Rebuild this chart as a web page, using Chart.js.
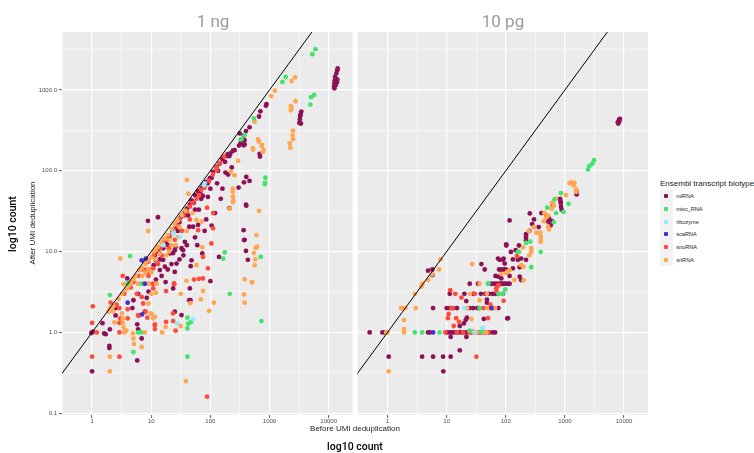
<!DOCTYPE html>
<html>
<head>
<meta charset="utf-8">
<script src="https://cdn.jsdelivr.net/npm/chart.js@4/dist/chart.umd.min.js"></script>
<style>
  body { margin: 0; width: 754px; height: 453px; background: #fff; position: relative; overflow: hidden;
         font-family: "Liberation Sans", Arial, sans-serif; }
  canvas { position: absolute; top: 0; }
  #ng1 { left: 0; }
  #pg10 { left: 355px; }
  .t { position: absolute; white-space: nowrap; line-height: 1; transform: translate(-50%, -50%); }
  .strip { font-family: Roboto, sans-serif; font-size: 17px; color: #9b9b9b; }
  .axis { font-size: 8px; color: #222; }
  .outer { font-family: Roboto, sans-serif; font-size: 10.5px; font-weight: 500; color: #000; }
  .rot { transform: translate(-50%, -50%) rotate(-90deg); }
  #legend { position: absolute; left: 660px; top: 178px; font-size: 8px; color: #222; }
  #legend .title { height: 12px; line-height: 11px; white-space: nowrap; }
  #legend .row { display: flex; align-items: center; height: 12.7px; }
  #legend .key { width: 12.7px; height: 12.7px; background: #f2f2f2; position: relative; }
  #legend .key span { position: absolute; left: 4.3px; top: 4.3px; width: 4px; height: 4px; border-radius: 1px; }
  #legend .lab { font-size: 5.6px; margin-left: 3.5px; }
</style>
</head>
<body>
<canvas id="ng1" width="355" height="432"></canvas>
<canvas id="pg10" width="300" height="432"></canvas>

<div class="t strip" style="left:213px; top:21px">1 ng</div>
<div class="t strip" style="left:503px; top:21px">10 pg</div>
<div class="t axis" style="left:355px; top:429px">Before UMI deduplication</div>
<div class="t outer" style="left:355px; top:447px">log10 count</div>
<div class="t axis rot" style="left:33px; top:223px">After UMI deduplication</div>
<div class="t outer rot" style="left:13px; top:224px">log10 count</div>
<div id="legend"><div class="title">Ensembl transcript biotype</div></div>

<script>
// axis breaks
const xTicks = [1, 10, 100, 1000, 10000];
const xTickLabels = ['1', '10', '100', '1000', '10000'];
const yTicks = [0.1, 1, 10, 100, 1000];
const yTickLabels = ['0.1', '1.0', '10.0', '100.0', '1000.0'];

const biotypes = ['miRNA', 'misc_RNA', 'ribozyme', 'scaRNA', 'snoRNA', 'snRNA'];
const biotypeColors = ['#8c1157', '#45e36d', '#8ee9fa', '#4b2fc6', '#ff4b3d', '#ffa64e'];

// y = x reference
const identityLine = [0.01, 100000];

// ---- 1 ng : [before, after] ----
const ng1_miRNA = [
  [12400,1100],[12500,1200],[12600,1300],[12800,1450],[13200,1150],[13500,1600],[14000,1750],[14200,1850],[14000,1350],[13800,1250],[12500,1050],
  [3450,540],[3350,500],[3300,470],[3250,430],[3200,390],[3400,385],
  [890,670],[870,640],[700,545],[665,470],[460,345],[400,310],[370,275],[380,212],[305,205],[335,228],
  [680,162],[690,150],[240,177],[210,152],[195,160],[325,218],[365,207],[380,240],
  [313,290],[257,180],[218,164],[191,152],[177,129],[144,123],[127,112],[111,97],[98,81],[84,73],[75,67],[71,61],[62,56],[55,50],[48,43],[45,38],[40,34],[37,31],[32,27],[30,23],[27,20],[23,17.6],[20,15],[18,12.6],[16,11],[14,9.5],[12,7.8],[11,6.8],
  [160,140],[135,100],[105,82],[90,70],[68,52],[52,40],[36,28],[26,22],[17,14],[13,10],
  [100,60],[70,45],[42,28],[28,18],[19,12],[14,8],[9,6],
  [460,75],[370,72],[405,84],[300,62],[400,38],[210,34.5],[405,37],[380,14],[400,10.2],[430,7.9],[140,8.6],[100,4.3],
  [91,47.5],[75,49],[64,33],[55,33],[51,20.3],[44,20.3],[62,21.4],[105,21],[32.5,11],[34.5,10.4],[25,10.4],[26,11.5],[37,13.2],[48,7.8],[46.5,6.6],[26.8,7.1],[25,5.6],[73,9.5],[365,18.4],[370,13.9],
  [15.9,7.9],[17,6.5],[14,5.9],[11.5,9],[21,9.5],[23.5,9.6],
  [30,8],[35,9],[40,12],[55,15],[60,12],[80,18],[85,25],[120,30],[150,45],[160,60],[130,70],[200,90],[230,110],[180,95],[12,4.5],[15,5],[19,6],[22,7],[6,3],[5,2.5],[9,3.2],
  [23.5,3.5],[24.3,4.0],[17.5,4.2],[45,3.5],[46,2.5],[44,2.5],[25,1.8],[32.5,1.64],[7.8,1.8],[8.4,2.68],[3.94,4.66],
  [8.8,24],[13,26.6],
  [1,1],[0.97,0.98],[1.03,1.02],[1,0.33],[1.6,0.97],[1.5,1.3],[1.7,0.95],[2,1.09],[1.96,0.64],[1.96,0.68],[2.5,2],[2.5,1.62],[4.8,2],[6.9,0.84],[5.8,1.26],[6,1.09],[5.8,0.45]
];
const ng1_misc = [
  [6000,3200],[5300,2770],[1870,1450],[1650,1260],[5700,870],[5030,815],[4900,660],[545,445],[325,245],[380,276],[335,245],
  [850,82],[840,71],[830,68],[175,9.8],[165,8.2],[710,8.6],[213,3.0],[730,1.38],
  [41,1.52],[47,1.34],[41,1.12],[42,1.28],[41,0.5],[5,0.57],[6,1],[6.7,1],[6.9,4],[4,4.04],[4.4,8.8],[2,2.9]
];
const ng1_ribozyme = [[78,66],[80,70],[24,17],[30.5,15.2],[16,12],[23.5,16.8],[51,1.45],[27.5,1.29]];
const ng1_scaRNA = [[7.8,4],[4,2.33],[7,1.67],[6.9,7.8],[8.1,8.2]];
const ng1_snoRNA = [
  [1,1.31],[1.03,2.1],[1,0.5],[1.2,1],[2.07,2.33],[2.9,2],[2.9,1],[2.9,0.5],[4,1.94],[4,1.49],[6.1,1.6],[11.5,1.26],[11.5,1.1],[11.5,1.23],[8,1.8],[8.6,1.52],[17.8,1.35],[23.5,1.72],[23.5,1.38],
  [3.3,5.0],[10.6,4],[10.8,3.5],[17.8,3.25],[24.5,4.0],[53,4.5],[64,4.6],[75,4.66],[25.8,1.05],[88,0.16],[5.7,3],[6.9,2.75],[7.3,2.28],[6,1.64],[3,1.49],[2.9,1.31],[6.4,5.9],[8.4,5.4],[10.8,6.2],[91,6.2],
  [127,101],[111,30],[111,19.4],[104,12.6],[62,18.4],[88,35],[75,8.6],
  [14,11],[16,13],[18,14],[21,16],[23,19],[27,21],[30,25],[35,28],[40,31],[45,36],[50,40],[58,45],[65,50],[70,58],[80,62],[95,75],[110,90],[125,110],[145,125],[170,150],
  [9,7.5],[11,9],[7.5,6],[6,5],[5,4.2],[4.5,3.6],[3.5,3],[2.6,2.2],
  [20,11],[25,14],[33,18],[15,9],[45,25],[9,5],[13,7]
];
const ng1_snRNA = [
  [2700,1430],[2360,1290],[1230,980],[1070,840],[2760,725],[2290,630],[2300,560],[2350,600],[560,405],[2500,315],[2450,275],[2500,245],[2200,218],[2250,193],
  [640,245],[660,230],[740,203],[525,183],[790,180],[525,190],[750,207],[770,171],[295,133],[222,97],[255,88],[240,60],[240,55],[240,48],[245,43],[240,41],[40,77],[42.5,52],[665,32],[212,34],
  [380,4.56],[510,4.15],[370,2.95],[380,2.33],[560,6.8],[575,8],[615,11.5],[600,16],[545,9.6],[580,11.1],[505,4.2],[58,24.6],[71,23.4],[73,11.3],[58,6.8],
  [8.9,18],[3,8.2],[3.4,3.96],[4,4],[4.4,4],[9,4],[12.3,4],[10.1,3],[12,3.1],[31.6,3.0],[39.5,4.35],[75,3.27],[46,2.3],[69,2.56],[115,2.33],[95,1.85],
  [15.3,1.0],[17.5,1.17],[11.5,1.56],[10.1,1.7],[31.6,1.2],[38.5,0.25],[2,2],[2,0.5],[2,0.33],[2.23,1.83],[2.4,1.33],[3.2,1.72],[3.3,1.49],[3.3,1.31],[3.4,1.15],[3.5,1],[3.8,1.05],[4.9,0.97],[5,0.84],[5.1,0.72],[6.9,0.66],[7.8,1],[9.8,1.72],[10.8,1.49],[8.9,2.28],
  [6.5,6],[7,6.3],[8,7],[9,7.8],[10,8.5],[11,10],[12,10.5],[13,11.5],[15,13],[17,14.5],[19,16],[22,19],[25,22],[28,24],[33,28],[38,32],
  [5.5,5],[5,4.6],[4.6,4.2],[4.2,3.8],[3.8,3.4],[3.2,3],[2.8,2.6],[2.3,2.1],[1.9,1.8],
  [6,4],[7,5],[8,5.5],[9,6],[12,8],[14,9.5],[16,12],[20,14],[24,17],[30,20],[26,12],[20,10],
  [18,9],[22,12],[28,15],[10,5.5],[40,18],[50,30]
];

// ---- 10 pg : [before, after] ----
const pg10_miRNA = [
  [7850,400],[8000,385],[8200,425],[8500,440],[8300,410],
  [830,45],[850,40],[860,36],[880,33],[840,42],[1560,55],[1580,51],
  [255,29.7],[485,27.7],[535,25.9],[520,23.5],[595,24],[575,21.2],[400,30],[300,25],[620,38],[250,18],
  [116,24.3],[280,21.9],[360,20.1],[220,16.4],[220,15],[220,13.8],[167,11.9],[102,11.9],[102,12.3],[122,9.9],[147,10.4],[74,8.2],[90,7.9],[96,7.1],[132,8],[160,7.9],[182,8.2],[220,7.9],
  [84,5.9],[102,5.9],[132,6.2],[172,6.4],[67,5],[84,4.65],[116,5],[172,4.9],[182,4.45],[38.7,7],[44,6],[79,7.9],[92,8.2],[75,4.9],[77,6],[85,6],[95,6],[100,6],
  [24.6,4],[34,4],[57,4],[64,4],[70,4],[78,4],[85,4],[92,4],[100,4],[110,4],[116,4],
  [11.3,3],[20,3],[28,3],[38,3],[45,3],[52,3],[60,3],[68,3],[75,3],[90,3],[21.5,2.44],[48,2.55],[48,2.33],[106,1.49],
  [5.9,2],[10,2],[11.3,2],[13,2],[15,2],[24.5,2],[28,2],[33,2],[36,2],[60,2],[75,2],
  [22,1.52],[21,1.42],[19.6,1.29],[42.6,1.47],[109,1.5],[16.7,1.2],
  [0.5,1],[0.82,1],[0.9,1],[4.85,1],[5.2,1],[10,1],[11,1],[12,1],[13,1],[14.5,1],[16,1],[18,1],[20,1],[22,1],[26,1],[30,1],[35,1],[40,1],[45,1],[52,1],[60,1],[66,1],
  [16.7,0.6],[11.7,0.88],[21.6,0.88],[1.05,0.5],[3.85,0.5],[5.9,0.5],[8.7,0.5],[11.7,0.5],[8.8,0.33],
  [4.85,5.8],[5.75,6],[5.75,5.1]
];
const pg10_misc = [
  [3100,135],[2920,123],[2600,115],[2450,104],[855,53],[660,44],[1150,39],[710,30],[945,31],[650,23],[500,35],
  [260,13.3],[220,12.8],[167,9.9],[390,9.9],[270,6.4],[160,9.9],[50,4],[51,4.05],[98,3.4],[75,3],[89,3],[36,2],
  [2.9,1],[3.85,1],[7.6,1],[24.5,1.05],[38.7,1.02]
];
const pg10_ribozyme = [[41,1.14],[20,2],[30,1]];
const pg10_scaRNA = [[5.9,1],[57,2]];
const pg10_snoRNA = [
  [10.5,1.5],[13.2,1.2],[16.2,1.35],[50,1.5],[10.8,1.69],[31.8,0.5],[17.8,2.7],[12,2],[42,2],[12.7,2],[14,3],[30,3],[11.5,3.33],
  [74,3.8],[69,3.5],[70,3.2],[92,2.46],[76,3.85],[155,8.8],[9.5,1],[15,1],[19,1],[24,1],[28,1.02],[38,1],[50,1],[14.5,1.5],[55,2.2]
];
const pg10_snRNA = [
  [1200,70],[1280,72],[1350,68],[1400,66],[1450,71],[1550,59],[1550,55],[1040,50],[650,37],[595,34],[520,27.8],[485,26.6],[440,23.8],[520,20.3],[540,18.8],
  [600,40],[700,45],[450,30],[300,20],
  [245,17.9],[330,17.1],[385,17.1],[390,15.3],[390,14],[390,13.2],[195,11.3],[270,11],[270,9.9],[250,9],[182,6.8],[200,6.5],[105,5.6],[140,4.45],[200,4.4],[84,5.3],[27,7],[116,5.9],[102,5.4],
  [36,2.5],[48,3],[66,2],[50,2],[55,2],[42,1],[28,1],[33,1],[47,1],[22.4,2],[26.2,1.46],[25,3],[36,4],
  [1,1],[0.95,1],[1.9,1.1],[1.9,1.42],[1.7,2],[1.8,2],[2,2],[3,2],[2.9,3],[3.75,3.7],[3.9,4],[4.85,4.45],[5.7,5.2],[7.45,6],[7.85,8],[1.05,0.33],[1.9,1]
];

const xMin = 0.31, xMax = 25400;
const yMin = 0.095, yMax = 5220;

// legend
const legendEl = document.getElementById('legend');
biotypes.forEach((name, i) => {
  const row = document.createElement('div');
  row.className = 'row';
  row.innerHTML = '<div class="key"><span style="background:' + biotypeColors[i] + '"></span></div><div class="lab">' + name + '</div>';
  legendEl.appendChild(row);
});

const panelBg = {
  id: 'panelBg',
  beforeDraw(chart) {
    const { ctx, chartArea: a } = chart;
    ctx.save();
    ctx.fillStyle = '#ebebeb';
    ctx.fillRect(a.left, a.top, a.right - a.left, a.bottom - a.top);
    ctx.restore();
  }
};

// major breaks plus ggplot-style minor breaks halfway (in log space)
function breaksWithMinor(majors, min, max) {
  const list = majors.map(v => ({ value: v }));
  const mids = [majors[0] / Math.sqrt(10)];
  for (let i = 0; i < majors.length - 1; i++) mids.push(Math.sqrt(majors[i] * majors[i + 1]));
  mids.push(majors[majors.length - 1] * Math.sqrt(10));
  mids.forEach(v => list.push({ value: v, minor: true }));
  return list.filter(t => t.value >= min && t.value <= max).sort((a, b) => a.value - b.value);
}

function logAxis(majors, labels, min, max, showLabels, fitSize, isX) {
  return {
    type: 'logarithmic',
    min: min,
    max: max,
    bounds: 'data',
    border: { display: false },
    grid: {
      color: '#ffffff',
      lineWidth: c => (c.tick && c.tick.minor) ? 0.6 : 1.2,
      drawTicks: showLabels,
      tickLength: 3,
      tickWidth: 0.8,
      tickColor: c => (c.tick && c.tick.minor) ? 'rgba(0,0,0,0)' : '#333333'
    },
    ticks: {
      display: showLabels,
      autoSkip: false,
      maxRotation: 0,
      padding: isX ? 0 : 2,
      color: '#4d4d4d',
      font: { family: '"Liberation Sans", Arial, sans-serif', size: 6 },
      callback: (value, i, ticks) => ticks[i].minor ? '' : labels[majors.indexOf(value)]
    },
    afterBuildTicks: scale => { scale.ticks = breaksWithMinor(majors, min, max); },
    afterFit: scale => { if (isX) scale.height = fitSize; else scale.width = fitSize; }
  };
}

function toXY(arr) { return arr.map(p => ({ x: p[0], y: p[1] })); }

function makePanel(id, series, showY, padding, yWidth) {
  const ctx = document.getElementById(id);
  const pointSets = series.map((data, i) => ({
    type: 'scatter',
    label: biotypes[i],
    data: toXY(data),
    backgroundColor: biotypeColors[i],
    borderWidth: 0,
    pointRadius: 2.4,
    pointHoverRadius: 2.4
  }));
  // dataset 0 is drawn last, so the reference line sits on top; snRNA drawn over miRNA
  const datasets = [{
    type: 'line',
    label: 'y = x',
    data: identityLine.map(v => ({ x: v, y: v })),
    borderColor: '#000000',
    borderWidth: 1,
    pointRadius: 0
  }].concat([pointSets[2], pointSets[3], pointSets[1], pointSets[5], pointSets[4], pointSets[0]]);

  new Chart(ctx, {
    type: 'scatter',
    data: { datasets: datasets },
    options: {
      responsive: false,
      animation: false,
      events: [],
      layout: { padding: padding },
      plugins: { legend: { display: false }, tooltip: { enabled: false } },
      scales: {
        x: logAxis(xTicks, xTickLabels, xMin, xMax, true, 17, true),
        y: logAxis(yTicks, yTickLabels, yMin, yMax, showY, yWidth, false)
      }
    },
    plugins: [panelBg]
  });
}

makePanel('ng1', [ng1_miRNA, ng1_misc, ng1_ribozyme, ng1_scaRNA, ng1_snoRNA, ng1_snRNA], true,
  { top: 32, left: 0, right: 2, bottom: 0 }, 62);
makePanel('pg10', [pg10_miRNA, pg10_misc, pg10_ribozyme, pg10_scaRNA, pg10_snoRNA, pg10_snRNA], false,
  { top: 32, left: 2, right: 7, bottom: 0 }, 0);
</script>
</body>
</html>
